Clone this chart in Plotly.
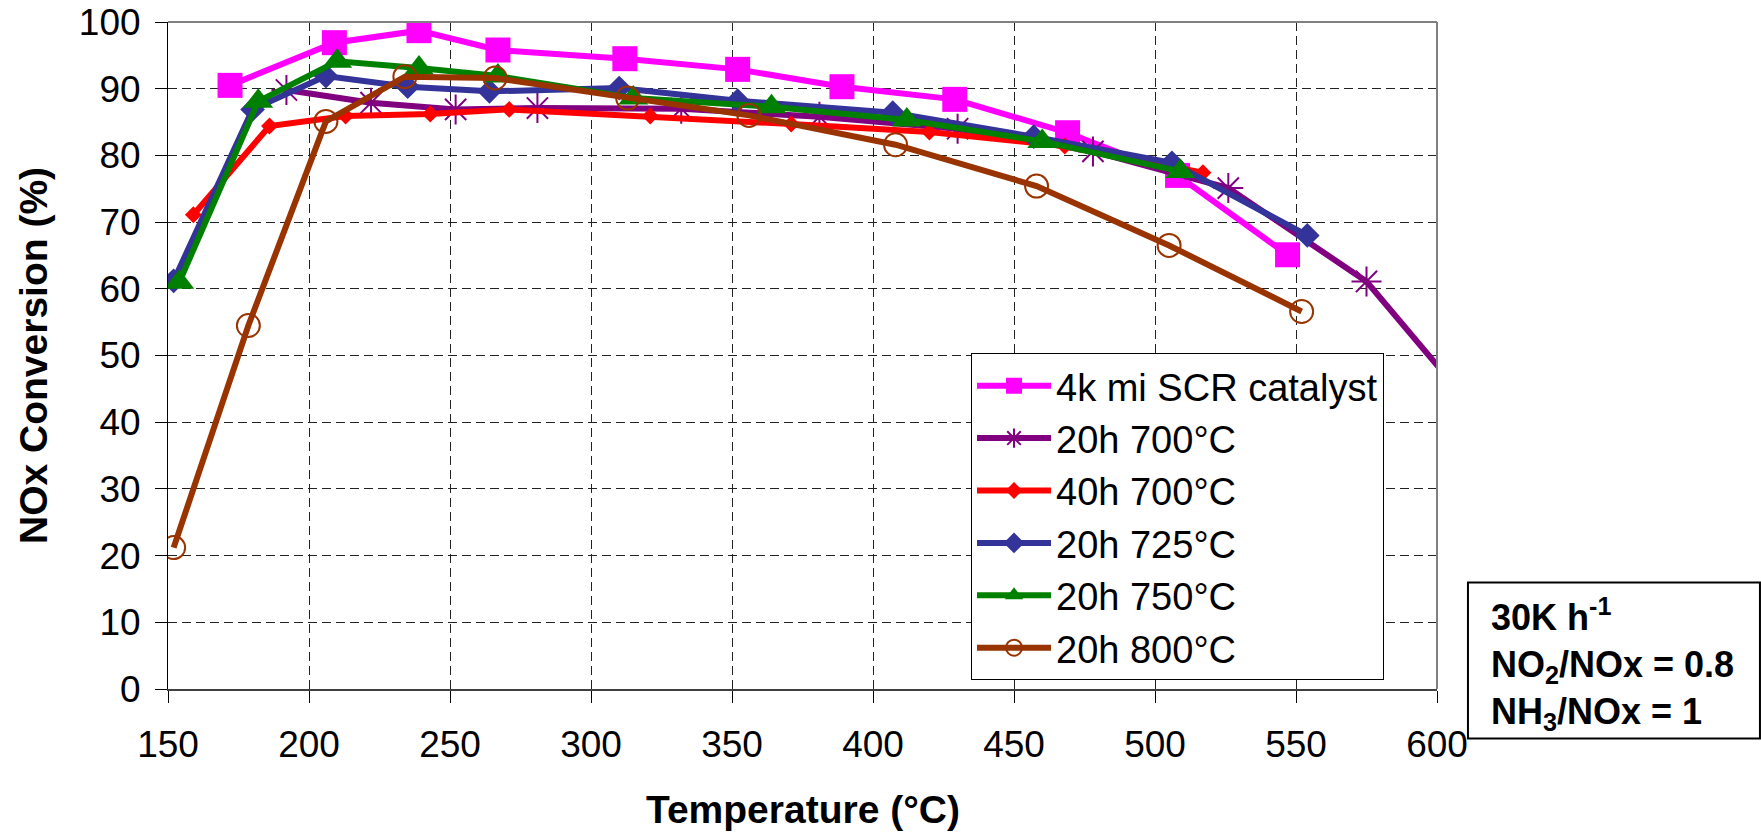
import plotly.graph_objects as go

# ---- data ----
t_4k = [172, 209, 239, 267, 312, 352, 389, 429, 469, 508, 547]
v_4k = [90.5, 96.9, 98.7, 95.8, 94.5, 92.9, 90.3, 88.4, 83.4, 77.0, 65.1]

t_20h700 = [192, 222, 252, 281, 332, 381, 430, 478, 526, 575, 625]
v_20h700 = [89.8, 87.9, 86.9, 87.1, 87.0, 85.8, 84.0, 80.6, 75.1, 61.1, 36.0]

t_40h700 = [159, 186, 213, 243, 271, 321, 371, 420, 468, 517]
v_40h700 = [71.1, 84.4, 85.9, 86.2, 86.9, 85.9, 84.7, 83.5, 81.4, 77.4]

t_20h725 = [152, 180, 206, 235, 264, 310, 352, 407, 457, 506, 554]
v_20h725 = [61.2, 86.9, 91.9, 90.3, 89.6, 90.1, 88.2, 86.4, 82.8, 78.9, 68.0]

t_20h750 = [154, 182, 210, 239, 267, 315, 364, 412, 460, 509]
v_20h750 = [61.0, 88.1, 94.1, 93.1, 91.9, 88.6, 87.3, 85.3, 82.1, 77.6]

t_20h800 = [152, 178.5, 206, 234, 266, 313, 356, 408, 458, 505, 552]
v_20h800 = [21.2, 54.5, 85.1, 91.8, 91.6, 88.6, 86.0, 81.6, 75.4, 66.5, 56.6]

names = ["4k mi SCR catalyst", "20h 700°C", "40h 700°C", "20h 725°C", "20h 750°C", "20h 800°C"]
x_ticks = [150, 200, 250, 300, 350, 400, 450, 500, 550, 600]
y_ticks = [0, 10, 20, 30, 40, 50, 60, 70, 80, 90, 100]

FONT = "Liberation Sans, Arial, sans-serif"

series = [
    (t_4k, v_4k, "#FF00FF", dict(symbol="square", size=25, color="#FF00FF")),
    (t_20h700, v_20h700, "#800080", dict(symbol="asterisk-open", size=25, color="#800080",
                                         line=dict(color="#800080", width=2))),
    (t_40h700, v_40h700, "#FF0000", dict(symbol="diamond", size=13, color="#FF0000")),
    (t_20h725, v_20h725, "#333399", dict(symbol="diamond", size=19, color="#333399")),
    (t_20h750, v_20h750, "#008000", dict(symbol="triangle-up", size=26, color="#008000")),
    (t_20h800, v_20h800, "#993300", dict(symbol="circle-open", size=23, color="#993300",
                                         line=dict(color="#993300", width=2))),
]

fig = go.Figure()
for (xs, ys, col, mk), nm in zip(series, names):
    fig.add_trace(go.Scatter(x=xs, y=ys, name=nm, mode="lines+markers",
                             line=dict(color=col, width=6), marker=mk))

fig.update_layout(
    width=1761, height=834,
    margin=dict(l=168, r=324, t=22, b=145, autoexpand=False),
    paper_bgcolor="white", plot_bgcolor="white",
    font=dict(family=FONT, color="black", size=37),
    showlegend=True,
    legend=dict(x=0.6328, y=0.503, xanchor="left", yanchor="top",
                bgcolor="white", bordercolor="black", borderwidth=1,
                itemwidth=74,
                font=dict(family=FONT, size=38, color="black")),
    xaxis=dict(range=[150, 600], tickvals=x_ticks, ticktext=[str(v) for v in x_ticks],
               showgrid=True, gridcolor="#222222", griddash="9px,5px", gridwidth=1,
               showline=True, linecolor="#404040", linewidth=2,
               ticks="outside", ticklen=12, tickcolor="black", tickwidth=1,
               ticklabelstandoff=10, zeroline=False, automargin=False,
               tickfont=dict(family=FONT, size=37, color="black")),
    yaxis=dict(range=[0, 100], tickvals=y_ticks, ticktext=[str(v) for v in y_ticks],
               showgrid=True, gridcolor="#222222", griddash="9px,5px", gridwidth=1,
               showline=True, linecolor="black", linewidth=1,
               ticks="outside", ticklen=12, tickcolor="black", tickwidth=1,
               ticklabelstandoff=7, zeroline=False, automargin=False,
               tickfont=dict(family=FONT, size=37, color="black")),
    shapes=[
        dict(type="line", xref="paper", yref="paper", x0=0, x1=1, y0=1, y1=1,
             line=dict(color="#808080", width=2)),
        dict(type="line", xref="paper", yref="paper", x0=1, x1=1, y0=0, y1=1,
             line=dict(color="#808080", width=2)),
        dict(type="rect", xref="paper", yref="paper", x0=1.0244, x1=1.2545,
             y0=-0.0742, y1=0.1597, line=dict(color="black", width=2),
             fillcolor="white", layer="above"),
    ],
    annotations=[
        dict(text="<b>Temperature (°C)</b>", xref="paper", yref="paper",
             x=0.5, y=-0.1800, xanchor="center", yanchor="middle", showarrow=False,
             font=dict(family=FONT, size=39, color="black")),
        dict(text="<b>NOx Conversion (%)</b>", xref="paper", yref="paper",
             x=-0.1060, y=0.5, xanchor="center", yanchor="middle", showarrow=False,
             textangle=-90, font=dict(family=FONT, size=39, color="black")),
        dict(text="<b>30K h<sup>-1</sup><br>NO<sub>2</sub>/NOx = 0.8<br>NH<sub>3</sub>/NOx = 1</b>",
             xref="paper", yref="paper", x=1.041, y=0.037,
             xanchor="left", yanchor="middle", showarrow=False, align="left",
             font=dict(family=FONT, size=36, color="black")),
    ],
)

fig.write_html("out.html", config={"displayModeBar": False},
               post_script="document.body.style.margin='0';")
